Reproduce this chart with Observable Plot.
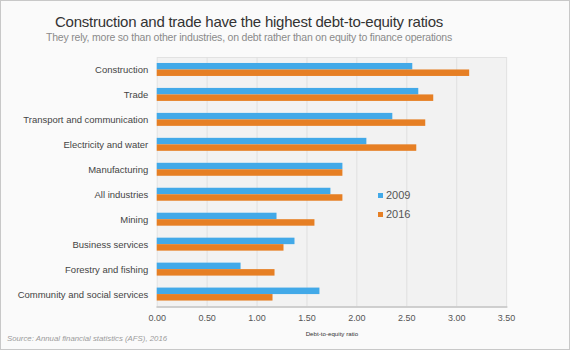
<!DOCTYPE html>
<html><head><meta charset="utf-8">
<script src="https://cdn.jsdelivr.net/npm/d3@7"></script>
<script src="https://cdn.jsdelivr.net/npm/@observablehq/plot@0.6"></script>
<style>
html,body{margin:0;padding:0;background:#fff}
#chart{position:relative;width:568px;height:348px;border:1px solid #c8c8c8;background:#fafafa;font-family:"Liberation Sans",Arial,sans-serif;overflow:hidden}
#title{position:absolute;left:0;top:12px;width:496px;text-align:center;font-size:15px;line-height:18px;letter-spacing:-0.24px;color:#333}
#subtitle{position:absolute;left:0;top:29.5px;width:496px;text-align:center;font-size:10.5px;line-height:12px;letter-spacing:-0.2px;color:#8a8a8a}
#plot{position:absolute;left:-1px;top:49px}
#legend{position:absolute;left:377px;top:187px;font-size:11px;color:#555}
#legend .item{height:18.7px;line-height:14px;white-space:nowrap}
#legend .sw{display:inline-block;width:5px;height:5px;margin-right:3px;vertical-align:1px}
#source{position:absolute;left:6px;top:333px;font-size:7.8px;line-height:10px;font-style:italic;color:#9a9a9a}
#plot svg g[aria-label="x-axis label"] text{font-size:6.2px;fill:#333}
#plot svg g[aria-label="x-axis tick label"] text{font-size:9px}
</style>
</head><body>
<div id="chart">
  <div id="title"></div>
  <div id="subtitle"></div>
  <div id="plot"></div>
  <div id="legend"></div>
  <div id="source"></div>
</div>
<script>
const titleText = "Construction and trade have the highest debt-to-equity ratios";
const subtitleText = "They rely, more so than other industries, on debt rather than on equity to finance operations";
const sourceText = "Source: Annual financial statistics (AFS), 2016";
const xLabel = "Debt-to-equity ratio";

const categories = ["Construction","Trade","Transport and communication","Electricity and water","Manufacturing","All industries","Mining","Business services","Forestry and fishing","Community and social services"];
const values2009 = [2.56, 2.62, 2.36, 2.10, 1.86, 1.74, 1.20, 1.38, 0.84, 1.63];
const values2016 = [3.13, 2.77, 2.69, 2.60, 1.86, 1.86, 1.58, 1.27, 1.18, 1.16];
const seriesNames = ["2009","2016"];
const seriesColors = ["#42a9e8","#e67f24"];
const xTicks = [0, 0.5, 1, 1.5, 2, 2.5, 3, 3.5];

document.getElementById("title").textContent = titleText;
document.getElementById("subtitle").textContent = subtitleText;
document.getElementById("source").textContent = sourceText;

const rows = categories.map((c, i) => ({cat: c, v2009: values2009[i], v2016: values2016[i]}));

const chart = Plot.plot({
  width: 570,
  height: 292,
  marginTop: 7,
  marginBottom: 35,
  marginLeft: 157,
  marginRight: 63,
  style: {fontFamily: '"Liberation Sans", Arial, sans-serif', fontSize: "9.5px", color: "#444", background: "transparent"},
  x: {domain: [0, 3.5]},
  y: {domain: categories, padding: 0},
  marks: [
    Plot.frame({fill: "#f2f2f2", stroke: "#e2e2e2"}),
    Plot.ruleX(xTicks.slice(1, -1), {stroke: "#e0e0e0", strokeWidth: 1}),
    Plot.barX(rows, {x: "v2009", y: "cat", fill: seriesColors[0], insetTop: 6, insetBottom: 12.5}),
    Plot.barX(rows, {x: "v2016", y: "cat", fill: seriesColors[1], insetTop: 12.5, insetBottom: 6}),
    Plot.frame({anchor: "bottom", stroke: "#c4c4c4", strokeWidth: 1.5}),
    Plot.axisY({tickSize: 0, tickPadding: 9, label: null, fill: "#444"}),
    Plot.axisX({ticks: xTicks, tickFormat: d3.format(".2f"), tickSize: 0, tickPadding: 8, fill: "#555",
      label: xLabel, labelAnchor: "center", labelOffset: 29, labelArrow: "none"})
  ]
});
document.getElementById("plot").appendChild(chart);

const legend = document.getElementById("legend");
seriesNames.forEach((s, i) => {
  const item = document.createElement("div");
  item.className = "item";
  const sw = document.createElement("span");
  sw.className = "sw";
  sw.style.background = seriesColors[i];
  item.appendChild(sw);
  item.appendChild(document.createTextNode(s));
  legend.appendChild(item);
});
</script>
</body></html>
